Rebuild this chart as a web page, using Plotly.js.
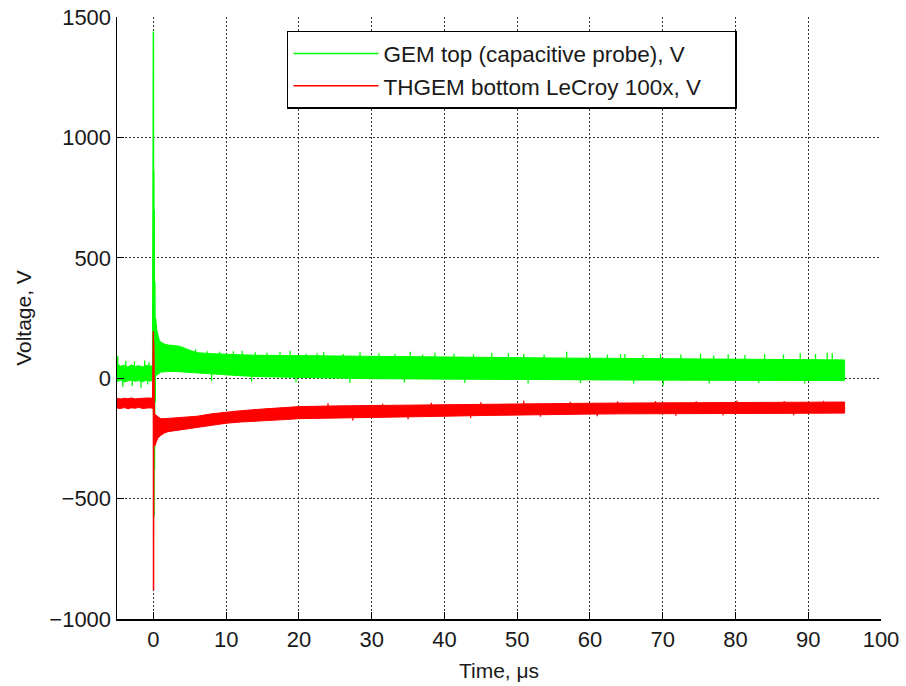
<!DOCTYPE html>
<html>
<head>
<meta charset="utf-8">
<script src="https://cdn.plot.ly/plotly-3.0.1.min.js"></script>
<style>
  html, body { margin: 0; padding: 0; background: #fff; }
  #chart { width: 906px; height: 686px; }
</style>
</head>
<body>
<div id="chart"></div>
<script>
// Discharge transient: GEM top (capacitive probe) and THGEM bottom (LeCroy 100x probe)

const xTicks = [0, 10, 20, 30, 40, 50, 60, 70, 80, 90, 100];
const yTicks = [-1000, -500, 0, 500, 1000, 1500];

// ---- GEM top: trigger burst around t = 0 ----
const gemBurstT = [-0.1, 0.0, 0.03, 0.06, 0.09, 0.12, 0.15, 0.2, 0.25, 0.3, 0.4];
const gemBurstV = [30, 1440, -150, 860, -575, 700, -380, 400, -100, 250, 120];

// GEM top noise band, before the trigger (upper / lower envelope)
const gemPreT  = [-5, -4.5, -4, -3.5, -3, -2.5, -2, -1.5, -1, -0.5, 0];
const gemPreHi = [60, 50, 54, 47, 55, 49, 52, 47, 53, 50, 52];
const gemPreLo = [-14, -9, -16, -11, -8, -13, -10, -15, -9, -12, -10];

// GEM top noise band, after the trigger
const gemPostT  = [0.3, 0.5, 0.8, 1, 1.5, 2, 3, 3.7, 5, 6, 8, 10, 12, 15, 18, 20, 25, 30, 35, 40, 45, 50, 55, 60, 65, 70, 75, 80, 85, 90, 95];
const gemPostHi = [240, 195, 160, 150, 142, 138, 135, 132, 116, 106, 102, 99, 97, 95, 94, 93, 92, 91, 90, 88, 86, 85, 84, 83, 82, 81, 80, 79, 78, 77, 76];
const gemPostLo = [10, 15, 20, 25, 28, 28, 28, 27, 25, 24, 20, 14, 10, 6, 3, 2, 0, -2, -3, -4, -5, -6, -6, -7, -8, -8, -9, -9, -10, -10, -10];

// GEM top isolated noise spikes (time, peak voltage)
const gemSpikeT = [-4.9, -3.8, -2.6, -1.2, -0.6, -4.2, -2.9, -1.7, -0.8,
  4.9, 5.8, 7.4, 9.1, 11.0, 12.2, 14.0, 15.6, 17.4, 18.8, 21.0, 22.5, 23.4, 26.1, 28.4, 31.0, 33.2, 35.3, 37.0, 38.7, 41.3, 44.0,
  46.5, 48.8, 50.9, 53.7, 56.8, 60.0, 62.4, 64.2, 64.8, 67.3, 69.7, 72.5, 75.2, 77.0, 79.0, 81.3, 84.0, 86.6, 88.9, 91.0, 92.6, 93.3,
  8.0, 13.5, 19.6, 27.0, 34.5, 42.8, 51.5, 58.7, 66.0, 70.1, 76.4, 83.2, 89.5];
const gemSpikeV = [92, 72, 70, 74, 66, -36, -32, -40, -26,
  118, 120, 112, 110, 112, 114, 108, 106, 110, 114, 102, 104, 108, 100, 110, 104, 100, 110, 98, 106, 102, 100,
  106, 104, 100, 98, 110, 102, 98, 100, 100, 96, 100, 98, 102, 94, 98, 96, 100, 98, 104, 100, 106, 104,
  -12, -14, -18, -20, -18, -20, -22, -20, -22, -30, -22, -20, -22];
const gemSpikeBase = 40;

// ---- THGEM bottom: trigger burst around t = 0 ----
const lecroyBurstT = [-0.1, 0.0, 0.02, 0.05, 0.08, 0.12, 0.2, 0.3];
const lecroyBurstV = [-100, 195, -880, 150, -500, -120, -280, -210];

// THGEM bottom noise band, before the trigger
const lecroyPreT  = [-5, -4.5, -4, -3.5, -3, -2.5, -2, -1.5, -1, -0.5, 0];
const lecroyPreHi = [-84, -86, -83, -85, -82, -86, -84, -83, -85, -82, -84];
const lecroyPreLo = [-124, -126, -122, -127, -123, -125, -121, -126, -124, -123, -125];

// THGEM bottom noise band, after the trigger
const lecroyPostT  = [0.2, 0.4, 0.6, 1, 1.5, 2, 3, 4, 6, 8, 10, 12, 15, 18, 20, 25, 30, 35, 40, 45, 50, 55, 60, 65, 70, 75, 80, 85, 90, 95];
const lecroyPostHi = [-150, -155, -160, -168, -168, -167, -166, -165, -158, -148, -140, -135, -128, -123, -118, -115, -113, -111, -110, -108, -106, -105, -104, -103, -102, -101, -100, -100, -99, -99];
const lecroyPostLo = [-280, -265, -250, -238, -228, -222, -218, -214, -205, -195, -187, -182, -176, -172, -168, -164, -162, -160, -158, -155, -152, -150, -149, -148, -147, -147, -146, -146, -145, -145];

// THGEM bottom isolated spikes
const lecroySpikeT = [24.0, 31.5, 38.2, 45.0, 50.9, 57.3, 63.8, 69.0, 74.6, 80.2, 86.7, 92.1,
  27.4, 35.0, 43.6, 53.2, 61.0, 71.8, 78.3, 88.0];
const lecroySpikeV = [-104, -106, -102, -100, -94, -98, -96, -95, -96, -93, -95, -94,
  -176, -170, -166, -160, -158, -156, -155, -154];
const lecroySpikeBase = -130;

const GREEN = '#00ff00';
const RED = '#ff0000';

// closed polygon: upper envelope forward, lower envelope backward
function band(t, hi, lo, color) {
  return {
    x: t.concat(t.slice().reverse()),
    y: hi.concat(lo.slice().reverse()),
    type: 'scatter', mode: 'lines', fill: 'toself',
    fillcolor: color, line: {color: color, width: 1},
    hoverinfo: 'skip', showlegend: false
  };
}

// vertical segments from a base level to each spike value
function spikes(t, v, base, color) {
  const x = [], y = [];
  t.forEach((ti, i) => { x.push(ti, ti, null); y.push(base, v[i], null); });
  return {
    x, y, type: 'scatter', mode: 'lines',
    line: {color: color, width: 1.3},
    hoverinfo: 'skip', showlegend: false
  };
}

const traces = [
  band(gemPreT, gemPreHi, gemPreLo, GREEN),
  band(gemPostT, gemPostHi, gemPostLo, GREEN),
  spikes(gemSpikeT, gemSpikeV, gemSpikeBase, GREEN),
  {
    x: gemBurstT, y: gemBurstV, type: 'scatter', mode: 'lines',
    name: 'GEM top (capacitive probe), V',
    line: {color: GREEN, width: 1.5}
  },
  band(lecroyPreT, lecroyPreHi, lecroyPreLo, RED),
  band(lecroyPostT, lecroyPostHi, lecroyPostLo, RED),
  spikes(lecroySpikeT, lecroySpikeV, lecroySpikeBase, RED),
  {
    x: lecroyBurstT, y: lecroyBurstV, type: 'scatter', mode: 'lines',
    name: 'THGEM bottom LeCroy 100x, V',
    line: {color: RED, width: 1.5}
  }
];

const FONT = '"Liberation Sans", Arial, Helvetica, sans-serif';
const axisCommon = {
  ticks: 'inside', ticklen: 7, tickwidth: 1, tickcolor: '#000',
  showline: true, linecolor: '#000', linewidth: 1.5, mirror: false,
  showgrid: true, gridcolor: '#333', gridwidth: 1, griddash: '2px,2px',
  zeroline: false, tickfont: {family: FONT, size: 22, color: '#1a1a1a'}
};

const layout = {
  width: 906, height: 686,
  margin: {l: 117, r: 25, t: 17, b: 67},
  paper_bgcolor: '#fff', plot_bgcolor: '#fff',
  font: {family: FONT, color: '#1a1a1a'},
  xaxis: Object.assign({}, axisCommon, {
    range: [-5, 100], tickmode: 'array', tickvals: xTicks,
    title: {text: 'Time, μs', font: {family: FONT, size: 21, color: '#1a1a1a'}, standoff: 12}
  }),
  yaxis: Object.assign({}, axisCommon, {
    range: [-1000, 1500], tickmode: 'array', tickvals: yTicks,
    title: {text: 'Voltage, V', font: {family: FONT, size: 21, color: '#1a1a1a'}, standoff: 12}
  }),
  showlegend: true,
  legend: {
    orientation: 'h',
    x: 0.2225, y: 0.977, xanchor: 'left', yanchor: 'top',
    bgcolor: '#fff', bordercolor: '#000', borderwidth: 1.5,
    font: {family: FONT, size: 22.5, color: '#1a1a1a'},
    itemwidth: 85, entrywidth: 347, entrywidthmode: 'pixels'
  }
};

Plotly.newPlot('chart', traces, layout, {displayModeBar: false, staticPlot: true});
</script>
</body>
</html>
